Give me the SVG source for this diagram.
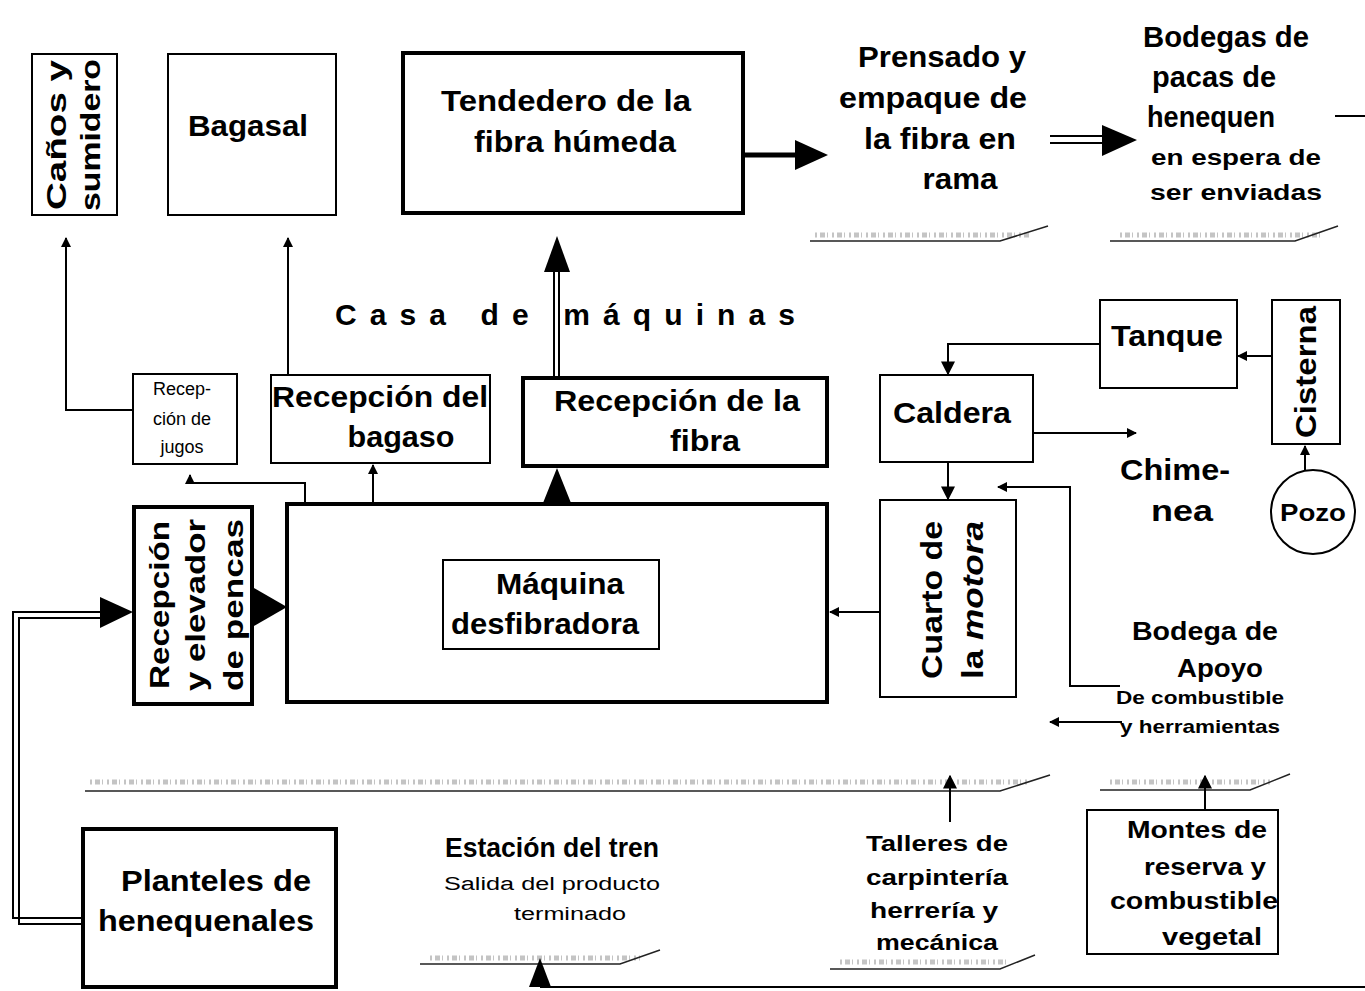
<svg xmlns="http://www.w3.org/2000/svg" width="1365" height="991" viewBox="0 0 1365 991">
<style>
text{font-family:"Liberation Sans",Arial,sans-serif;font-weight:bold;fill:#000}
.box{fill:#fff;stroke:#000;stroke-width:2}
.tbox{fill:#fff;stroke:#000;stroke-width:4}
.ln{fill:none;stroke:#000;stroke-width:2}
.thk{fill:none;stroke:#000;stroke-width:5}
.shelf{fill:none;stroke:#222;stroke-width:1.5}
.tex{fill:none;stroke:#c4c4c4;stroke-width:5;stroke-dasharray:2 3 5 2 1 4}
.ah{fill:#000}
.t26{font-size:27px}
.t30{font-size:30px}
.sm{font-size:18px;font-weight:normal}
.nw{font-weight:normal}
</style>
<defs>
<marker id="a" viewBox="0 0 10 10" refX="9" refY="5" markerWidth="10" markerHeight="10" markerUnits="userSpaceOnUse" orient="auto"><path d="M0,0 L10,5 L0,10 z" fill="#000"/></marker>
<marker id="a2" viewBox="0 0 10 10" refX="9" refY="5" markerWidth="14" markerHeight="14" markerUnits="userSpaceOnUse" orient="auto"><path d="M0,0 L10,5 L0,10 z" fill="#000"/></marker>
</defs>
<rect width="1365" height="991" fill="#fff"/>

<g id="canos">
<rect class="box" x="32" y="54" width="85" height="161"/>
<text class="t26" transform="translate(66,135) rotate(-90)" text-anchor="middle" textLength="150" lengthAdjust="spacingAndGlyphs">Caños y</text>
<text class="t26" transform="translate(100,135) rotate(-90)" text-anchor="middle" textLength="152" lengthAdjust="spacingAndGlyphs">sumidero</text>
</g>
<g id="bagasal">
<rect class="box" x="168" y="54" width="168" height="161"/>
<text class="t30" x="248" y="136" text-anchor="middle" textLength="120" lengthAdjust="spacingAndGlyphs">Bagasal</text>
</g>
<g id="tendedero">
<rect class="tbox" x="403" y="53" width="340" height="160"/>
<text class="t30" x="566" y="111" text-anchor="middle" textLength="250" lengthAdjust="spacingAndGlyphs">Tendedero de la</text>
<text class="t30" x="575" y="152" text-anchor="middle" textLength="202" lengthAdjust="spacingAndGlyphs">fibra húmeda</text>
</g>
<g id="prensado">
<text class="t30" x="942" y="67" text-anchor="middle" textLength="168" lengthAdjust="spacingAndGlyphs">Prensado y</text>
<text class="t30" x="933" y="108" text-anchor="middle" textLength="188" lengthAdjust="spacingAndGlyphs">empaque de</text>
<text class="t30" x="940" y="149" text-anchor="middle" textLength="152" lengthAdjust="spacingAndGlyphs">la fibra en</text>
<text class="t30" x="960" y="189" text-anchor="middle" textLength="75" lengthAdjust="spacingAndGlyphs">rama</text>
<path class="tex" d="M815,235 H1030"/>
<path class="shelf" d="M810,241 H1000 L1048,226"/>
</g>
<g id="bodegas">
<text class="t30" x="1226" y="47" text-anchor="middle" textLength="166" lengthAdjust="spacingAndGlyphs">Bodegas de</text>
<text class="t30" x="1214" y="87" text-anchor="middle" textLength="124" lengthAdjust="spacingAndGlyphs">pacas de</text>
<text class="t30" x="1211" y="127" text-anchor="middle" textLength="128" lengthAdjust="spacingAndGlyphs">henequen</text>
<text x="1236" y="165" font-size="22" text-anchor="middle" textLength="170" lengthAdjust="spacingAndGlyphs">en espera de</text>
<text x="1236" y="200" font-size="22" text-anchor="middle" textLength="172" lengthAdjust="spacingAndGlyphs">ser enviadas</text>
<path class="tex" d="M1120,235 H1320"/>
<path class="shelf" d="M1110,241 H1295 L1338,226"/>
</g>
<g id="casa">
<text x="335" y="325" font-size="30" letter-spacing="10" textLength="470">Casa de máquinas</text>
</g>
<g id="rec-jugos">
<rect class="box" x="133" y="374" width="104" height="90"/>
<text class="sm" x="182" y="395" text-anchor="middle">Recep-</text>
<text class="sm" x="182" y="425" text-anchor="middle">ción de</text>
<text class="sm" x="182" y="453" text-anchor="middle">jugos</text>
</g>
<g id="rec-bagaso">
<rect class="box" x="271" y="375" width="219" height="88"/>
<text class="t30" x="272" y="407" textLength="216" lengthAdjust="spacingAndGlyphs">Recepción del</text>
<text class="t30" x="401" y="447" text-anchor="middle" textLength="107" lengthAdjust="spacingAndGlyphs">bagaso</text>
</g>
<g id="rec-fibra">
<rect class="tbox" x="523" y="378" width="304" height="88"/>
<text class="t30" x="677" y="411" text-anchor="middle" textLength="246" lengthAdjust="spacingAndGlyphs">Recepción de la</text>
<text class="t30" x="705" y="451" text-anchor="middle" textLength="70" lengthAdjust="spacingAndGlyphs">fibra</text>
</g>
<g id="maquina">
<rect class="tbox" x="287" y="504" width="540" height="198"/>
<rect class="box" x="443" y="560" width="216" height="89"/>
<text class="t30" x="560" y="594" text-anchor="middle" textLength="128" lengthAdjust="spacingAndGlyphs">Máquina</text>
<text class="t30" x="545" y="634" text-anchor="middle" textLength="188" lengthAdjust="spacingAndGlyphs">desfibradora</text>
</g>
<g id="rec-pencas">
<rect class="tbox" x="134" y="507" width="118" height="197"/>
<text class="t26" transform="translate(169,605) rotate(-90)" text-anchor="middle" textLength="168" lengthAdjust="spacingAndGlyphs">Recepción</text>
<text class="t26" transform="translate(205,605) rotate(-90)" text-anchor="middle" textLength="172" lengthAdjust="spacingAndGlyphs">y elevador</text>
<text class="t26" transform="translate(243,605) rotate(-90)" text-anchor="middle" textLength="172" lengthAdjust="spacingAndGlyphs">de pencas</text>
</g>
<g id="planteles">
<rect class="tbox" x="83" y="829" width="253" height="158"/>
<text class="t30" x="216" y="891" text-anchor="middle" textLength="190" lengthAdjust="spacingAndGlyphs">Planteles de</text>
<text class="t30" x="206" y="931" text-anchor="middle" textLength="216" lengthAdjust="spacingAndGlyphs">henequenales</text>
</g>
<g id="caldera">
<rect class="box" x="880" y="375" width="153" height="87"/>
<text class="t30" x="952" y="423" text-anchor="middle" textLength="118" lengthAdjust="spacingAndGlyphs">Caldera</text>
</g>
<g id="tanque">
<rect class="box" x="1100" y="300" width="137" height="88"/>
<text class="t30" x="1167" y="346" text-anchor="middle" textLength="112" lengthAdjust="spacingAndGlyphs">Tanque</text>
</g>
<g id="cisterna">
<rect class="box" x="1272" y="300" width="68" height="144"/>
<text class="t30" transform="translate(1316,372) rotate(-90)" text-anchor="middle" textLength="132" lengthAdjust="spacingAndGlyphs">Cisterna</text>
</g>
<g id="pozo">
<circle cx="1313" cy="512" r="42" fill="#fff" stroke="#000" stroke-width="2"/>
<text x="1313" y="521" font-size="24" text-anchor="middle" textLength="66" lengthAdjust="spacingAndGlyphs">Pozo</text>
</g>
<g id="chimenea">
<text class="t30" x="1175" y="480" text-anchor="middle" textLength="110" lengthAdjust="spacingAndGlyphs">Chime-</text>
<text class="t30" x="1182" y="521" text-anchor="middle" textLength="62" lengthAdjust="spacingAndGlyphs">nea</text>
</g>
<g id="cuarto">
<rect class="box" x="880" y="500" width="136" height="197"/>
<text class="t30" transform="translate(942,600) rotate(-90)" text-anchor="middle" textLength="158" lengthAdjust="spacingAndGlyphs">Cuarto de</text>
<text class="t30" transform="translate(983,600) rotate(-90)" text-anchor="middle" textLength="158" lengthAdjust="spacingAndGlyphs">la <tspan font-style="italic">motora</tspan></text>
</g>
<g id="bodega-apoyo">
<text x="1205" y="640" font-size="26" text-anchor="middle" textLength="146" lengthAdjust="spacingAndGlyphs">Bodega de</text>
<text x="1220" y="677" font-size="26" text-anchor="middle" textLength="86" lengthAdjust="spacingAndGlyphs">Apoyo</text>
<text x="1200" y="704" font-size="19" text-anchor="middle" textLength="168" lengthAdjust="spacingAndGlyphs">De combustible</text>
<text x="1200" y="733" font-size="19" text-anchor="middle" textLength="160" lengthAdjust="spacingAndGlyphs">y herramientas</text>
<path class="tex" d="M1110,782 H1270"/>
<path class="shelf" d="M1100,790 H1250 L1290,774"/>
</g>
<g id="patio">
<path class="tex" d="M90,782 H1030"/>
<path class="shelf" d="M85,791 H1000 L1050,775"/>
</g>
<g id="estacion">
<text x="552" y="857" font-size="28" text-anchor="middle" textLength="214" lengthAdjust="spacingAndGlyphs">Estación del tren</text>
<text class="nw" x="552" y="890" font-size="18" text-anchor="middle" textLength="216" lengthAdjust="spacingAndGlyphs">Salida del producto</text>
<text class="nw" x="570" y="920" font-size="18" text-anchor="middle" textLength="112" lengthAdjust="spacingAndGlyphs">terminado</text>
<path class="tex" d="M430,958 H640"/>
<path class="shelf" d="M420,964 H620 L660,950"/>
</g>
<g id="talleres">
<text x="937" y="851" font-size="22" text-anchor="middle" textLength="142" lengthAdjust="spacingAndGlyphs">Talleres de</text>
<text x="937" y="885" font-size="22" text-anchor="middle" textLength="142" lengthAdjust="spacingAndGlyphs">carpintería</text>
<text x="934" y="918" font-size="22" text-anchor="middle" textLength="128" lengthAdjust="spacingAndGlyphs">herrería y</text>
<text x="937" y="950" font-size="22" text-anchor="middle" textLength="122" lengthAdjust="spacingAndGlyphs">mecánica</text>
<path class="tex" d="M840,962 H1010"/>
<path class="shelf" d="M830,969 H1000 L1035,955"/>
</g>
<g id="montes">
<rect class="box" x="1087" y="810" width="191" height="144"/>
<text x="1197" y="838" font-size="24" text-anchor="middle" textLength="140" lengthAdjust="spacingAndGlyphs">Montes de</text>
<text x="1205" y="875" font-size="24" text-anchor="middle" textLength="122" lengthAdjust="spacingAndGlyphs">reserva y</text>
<text x="1194" y="909" font-size="24" text-anchor="middle" textLength="168" lengthAdjust="spacingAndGlyphs">combustible</text>
<text x="1212" y="945" font-size="24" text-anchor="middle" textLength="100" lengthAdjust="spacingAndGlyphs">vegetal</text>
</g>

<g id="connectors">
<path class="ln" d="M133,410 H66 V238" marker-end="url(#a)"/>
<path class="ln" d="M288,375 V238" marker-end="url(#a)"/>
<path class="ln" d="M554,378 V268 M559,378 V268"/>
<polygon class="ah" points="557,236 544,272 570,272"/>
<path class="thk" d="M743,155 H800"/>
<polygon class="ah" points="828,155 795,140 795,170"/>
<path class="ln" d="M1050,136 H1105 M1050,143 H1105"/>
<polygon class="ah" points="1137,140 1102,125 1102,156"/>
<path class="ln" d="M1335,116 H1365" stroke-width="3"/>
<path class="ln" d="M305,504 V483 H190 V475" marker-end="url(#a)"/>
<path class="ln" d="M373,504 V465" marker-end="url(#a)"/>
<polygon class="ah" points="557,468 543,503 571,503"/>
<polygon class="ah" points="287,607 254,588 254,626"/>
<path class="ln" d="M83,918 H13 V612 H105 M83,924 H19 V618 H105"/>
<polygon class="ah" points="133,612 100,597 100,628"/>
<path class="ln" d="M1272,356 H1238" marker-end="url(#a)"/>
<path class="ln" d="M1305,470 V446" marker-end="url(#a)"/>
<path class="ln" d="M1100,344 H948 V374" marker-end="url(#a2)"/>
<path class="ln" d="M1033,433 H1136" marker-end="url(#a)"/>
<path class="ln" d="M948,462 V499" marker-end="url(#a2)"/>
<path class="ln" d="M1120,686 H1070 V487 H998" marker-end="url(#a)"/>
<path class="ln" d="M880,612 H830" marker-end="url(#a)"/>
<path class="ln" d="M1122,722 H1050" marker-end="url(#a)"/>
<path class="ln" d="M950,822 V776" marker-end="url(#a2)"/>
<path class="ln" d="M1205,810 V776" marker-end="url(#a2)"/>
<path class="ln" d="M540,987 H1365"/>
<polygon class="ah" points="540,958 529,987 551,987"/>
</g>
</svg>
